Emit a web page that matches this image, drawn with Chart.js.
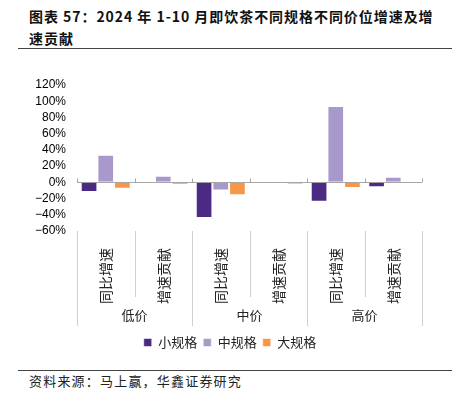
<!DOCTYPE html>
<html>
<head>
<meta charset="utf-8">
<script src="https://cdn.jsdelivr.net/npm/chart.js@4/dist/chart.umd.min.js"></script>
<style>
  body { margin: 0; background: #fff; width: 462px; height: 399px; position: relative; overflow: hidden; }
  .title { position: absolute; left: 29px; top: 5px; font: bold 14px "Noto Sans CJK SC", sans-serif; letter-spacing: 0.95px; line-height: 22px; color: #111; }
  .rule { position: absolute; left: 18px; width: 434px; height: 1px; background: #444; }
  .source { position: absolute; left: 29px; top: 373px; font: 13px "Noto Sans CJK SC", sans-serif; letter-spacing: 1.2px; color: #222; line-height: 16px; }
  #wrap { position: absolute; left: 0; top: 50px; width: 462px; height: 315px; }
</style>
</head>
<body>
<div class="title">图表 57：2024 年 1-10 月即饮茶不同规格不同价位增速及增<br>速贡献</div>
<div class="rule" style="top:48px"></div>
<div id="wrap"><canvas id="barChart"></canvas></div>
<div class="rule" style="top:370px"></div>
<div class="source">资料来源：马上赢，华鑫证券研究</div>
<script>
// categories and groups along the x axis
const categories = ["同比增速", "增速贡献", "同比增速", "增速贡献", "同比增速", "增速贡献"];
const groups = ["低价", "中价", "高价"];

// series values (%)
const smallSize = [-12, 0, -44, 0, -24, -6];
const midSize = [34, 8, -10, 0, 94, 7];
const largeSize = [-8, -3, -16, -2, -7, 0];

const seriesLabels = ["小规格", "中规格", "大规格"];
const seriesColors = ["#4B2A84", "#A898CC", "#F79646"];

const cjkFont = "'Noto Sans CJK SC', sans-serif";

// draws the zero-line ticks, the category separators and the group names
const groupAxisPlugin = {
  id: "groupAxis",
  afterLayout(chart) {
    // nudge the legend to the right, like the reference
    chart.legend.left += 19;
    chart.legend.right += 19;
  },
  afterDraw(chart) {
    const ctx = chart.ctx;
    const x = chart.scales.x;
    const y = chart.scales.y;
    const area = chart.chartArea;
    const step = (area.right - area.left) / categories.length;
    const zeroY = Math.round(y.getPixelForValue(0)) + 0.5;
    ctx.save();
    ctx.lineWidth = 1;
    for (let i = 0; i <= categories.length; i++) {
      const px = Math.round(area.left + i * step) + 0.5;
      ctx.strokeStyle = "#A6A6A6";
      ctx.beginPath();
      ctx.moveTo(px, zeroY);
      ctx.lineTo(px, zeroY - 4);
      ctx.stroke();
      ctx.strokeStyle = "#D0D0D0";
      ctx.beginPath();
      ctx.moveTo(px, area.bottom);
      ctx.lineTo(px, area.bottom + (i % 2 === 0 ? 95 : 66));
      ctx.stroke();
    }
    ctx.fillStyle = "#222";
    ctx.font = "13px " + cjkFont;
    ctx.textAlign = "center";
    ctx.textBaseline = "middle";
    groups.forEach((g, i) => {
      const cx = (x.getPixelForValue(i * 2) + x.getPixelForValue(i * 2 + 1)) / 2;
      ctx.fillText(g, cx, area.bottom + 84);
    });
    ctx.restore();
  },
};

function createBarChart(elementId) {
  const ctx = document.getElementById(elementId).getContext("2d");
  new Chart(ctx, {
    type: "bar",
    data: {
      labels: categories,
      datasets: [smallSize, midSize, largeSize].map((values, i) => ({
        label: seriesLabels[i],
        data: values,
        backgroundColor: seriesColors[i],
        borderColor: "rgba(255,255,255,0.55)",
        borderWidth: 1,
        barPercentage: 1,
        categoryPercentage: 0.87,
      })),
    },
    options: {
      responsive: true,
      maintainAspectRatio: false,
      animation: false,
      layout: {
        padding: { top: 35, right: 40, bottom: 6, left: 0 },
      },
      scales: {
        x: {
          grid: { display: false },
          border: { display: false },
          ticks: {
            autoSkip: false,
            minRotation: 90,
            maxRotation: 90,
            padding: 9,
            color: "#222",
            font: { family: cjkFont, size: 14 },
          },
          afterFit(scale) {
            scale.height = 99;
          },
        },
        y: {
          min: -60,
          max: 120,
          border: { display: false },
          grid: {
            drawTicks: false,
            color: (c) => (c.tick && c.tick.value === 0 ? "#A6A6A6" : "rgba(0,0,0,0)"),
          },
          ticks: {
            stepSize: 20,
            autoSkip: false,
            padding: 11,
            color: "#000",
            font: { family: "'Liberation Sans', Arial, sans-serif", size: 12 },
            callback: (v) => (v < 0 ? "\u2212" + Math.abs(v) : v) + "%",
          },
          afterFit(scale) {
            scale.width = 77;
          },
        },
      },
      plugins: {
        tooltip: { enabled: false },
        legend: {
          position: "bottom",
          labels: {
            boxWidth: 8,
            boxHeight: 8,
            padding: 6,
            color: "#222",
            font: { family: cjkFont, size: 13 },
          },
        },
      },
    },
    plugins: [groupAxisPlugin],
  });
}

window.onload = function () {
  createBarChart("barChart");
};
</script>
</body>
</html>
